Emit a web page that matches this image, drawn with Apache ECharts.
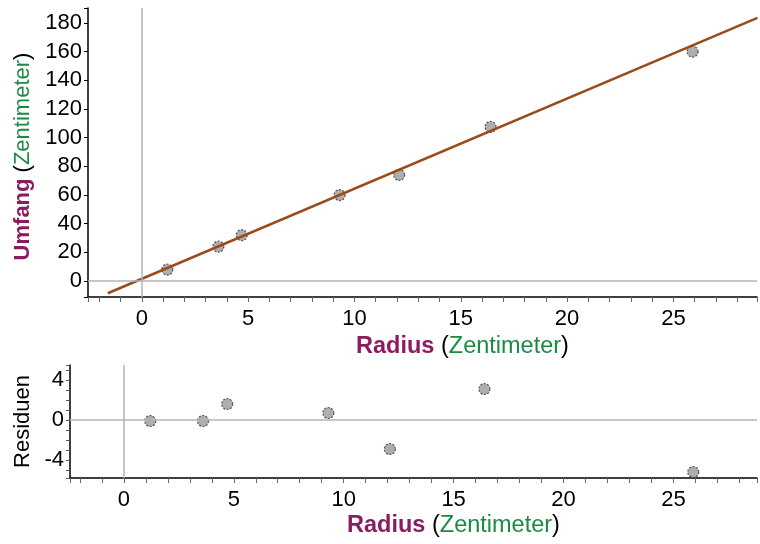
<!DOCTYPE html>
<html>
<head>
<meta charset="utf-8">
<script src="https://cdn.jsdelivr.net/npm/echarts@6/dist/echarts.min.js"></script>
<style>
html,body{margin:0;padding:0;background:#fff;}
#c{width:760px;height:544px;}
</style>
</head>
<body>
<div id="c"></div>
<script>
// Data
const radius = [1.2, 3.6, 4.7, 9.3, 12.1, 16.4, 25.9];
const umfang = [8, 24, 32, 60, 74, 107.5, 160];
const residuen = [-0.1, -0.1, 1.6, 0.7, -2.9, 3.1, -5.2];
const fitLineX = [-1.6, 28.95];
const fitLineY = [-8.5, 183.5];
const xTickLabels = [0, 5, 10, 15, 20, 25];
const yTickLabelsTop = [0, 20, 40, 60, 80, 100, 120, 140, 160, 180];
const yTickLabelsRes = [-4, 0, 4];

const PURPLE = '#8c1c62';
const GREEN = '#1b8a44';
const FONT = 'Liberation Sans, Arial, sans-serif';

const pts = radius.map((r, i) => [r, umfang[i]]);
const res = radius.map((r, i) => [r, residuen[i]]);
const fit = fitLineX.map((x, i) => [x, fitLineY[i]]);

function near(v, list) { return list.some(t => Math.abs(v - t) < 1e-6); }

const axisLabelStyle = { color: '#000', fontSize: 22, fontFamily: FONT };
function titleRich(size) {
  return {
    a: { color: PURPLE, fontWeight: 'bold', fontSize: size, fontFamily: FONT },
    b: { color: GREEN, fontSize: size, fontFamily: FONT }
  };
}
const zeroLines = {
  silent: true, symbol: 'none', animation: false,
  label: { show: false },
  lineStyle: { color: '#b4b4b4', width: 1.5, type: 'solid' },
  emphasis: { disabled: true },
  data: [{ xAxis: 0 }, { yAxis: 0 }]
};
const pointStyle = { color: '#9a9a9a', borderColor: '#333', borderWidth: 1.2, borderType: [2, 1.5] };

function xAxisDef(gridIndex, min, max, gap) {
  return {
    type: 'value', gridIndex, min, max, minInterval: 1, maxInterval: 1, splitNumber: 31,
    axisLine: { show: true, onZero: false, lineStyle: { color: '#000', width: 1.5 } },
    axisTick: { show: true, length: 5, lineStyle: { color: '#666', width: 1 } },
    splitLine: { show: false },
    axisLabel: Object.assign({ margin: 11, formatter: v => near(v, xTickLabels) ? String(Math.round(v)) : '' }, axisLabelStyle),
    name: '{a|Radius} ({b|Zentimeter})',
    nameLocation: 'middle', nameGap: gap,
    nameTextStyle: { color: '#000', fontSize: 23.5, fontFamily: FONT, rich: titleRich(23.5), padding: [0, 0, 0, 80] }
  };
}

const option = {
  animation: false,
  backgroundColor: '#fff',
  grid: [
    { left: 88, top: 8, width: 672, height: 289 },
    { left: 70, top: 365, width: 690, height: 113 }
  ],
  xAxis: [
    xAxisDef(0, -2.53, 28.93, 37),
    xAxisDef(1, -2.45, 28.8, 36)
  ],
  yAxis: [
    {
      type: 'value', gridIndex: 0, min: -11.1, max: 190.4, minInterval: 20, maxInterval: 20, splitNumber: 10,
      axisLine: { show: true, onZero: false, lineStyle: { color: '#000', width: 1.5 } },
      axisTick: { show: true, length: 4, lineStyle: { color: '#000', width: 1 } },
      splitLine: { show: false },
      axisLabel: Object.assign({ margin: 6, formatter: v => near(v, yTickLabelsTop) ? String(Math.round(v)) : '' }, axisLabelStyle),
      name: '{a|Umfang} ({b|Zentimeter})',
      nameLocation: 'middle', nameGap: 50, nameRotate: 90,
      nameTextStyle: { color: '#000', fontSize: 22, fontFamily: FONT, rich: titleRich(22), padding: [0, 8, 0, 0] }
    },
    {
      type: 'value', gridIndex: 1, min: -5.8, max: 5.5, minInterval: 1, maxInterval: 1, splitNumber: 12,
      axisLine: { show: true, onZero: false, lineStyle: { color: '#000', width: 1.5 } },
      axisTick: { show: true, length: 4, lineStyle: { color: '#555', width: 1 } },
      splitLine: { show: false },
      axisLabel: Object.assign({ margin: 6, formatter: v => near(v, yTickLabelsRes) ? String(Math.round(v)) : '' }, axisLabelStyle),
      name: 'Residuen',
      nameLocation: 'middle', nameGap: 34, nameRotate: 90,
      nameTextStyle: { color: '#000', fontSize: 22, fontFamily: FONT }
    }
  ],
  series: [
    {
      type: 'scatter', xAxisIndex: 0, yAxisIndex: 0, data: pts,
      symbol: 'circle', symbolSize: 11, itemStyle: pointStyle, z: 3,
      markLine: zeroLines
    },
    {
      type: 'line', xAxisIndex: 0, yAxisIndex: 0, data: fit,
      showSymbol: false, symbol: 'none', z: 4,
      lineStyle: { color: '#9c4a1a', width: 2.5 }
    },
    {
      type: 'scatter', xAxisIndex: 1, yAxisIndex: 1, data: res,
      symbol: 'circle', symbolSize: 11, itemStyle: pointStyle, z: 3,
      markLine: zeroLines
    }
  ]
};

const chart = echarts.init(document.getElementById('c'), null, { renderer: 'canvas' });
chart.setOption(option);
</script>
</body>
</html>
